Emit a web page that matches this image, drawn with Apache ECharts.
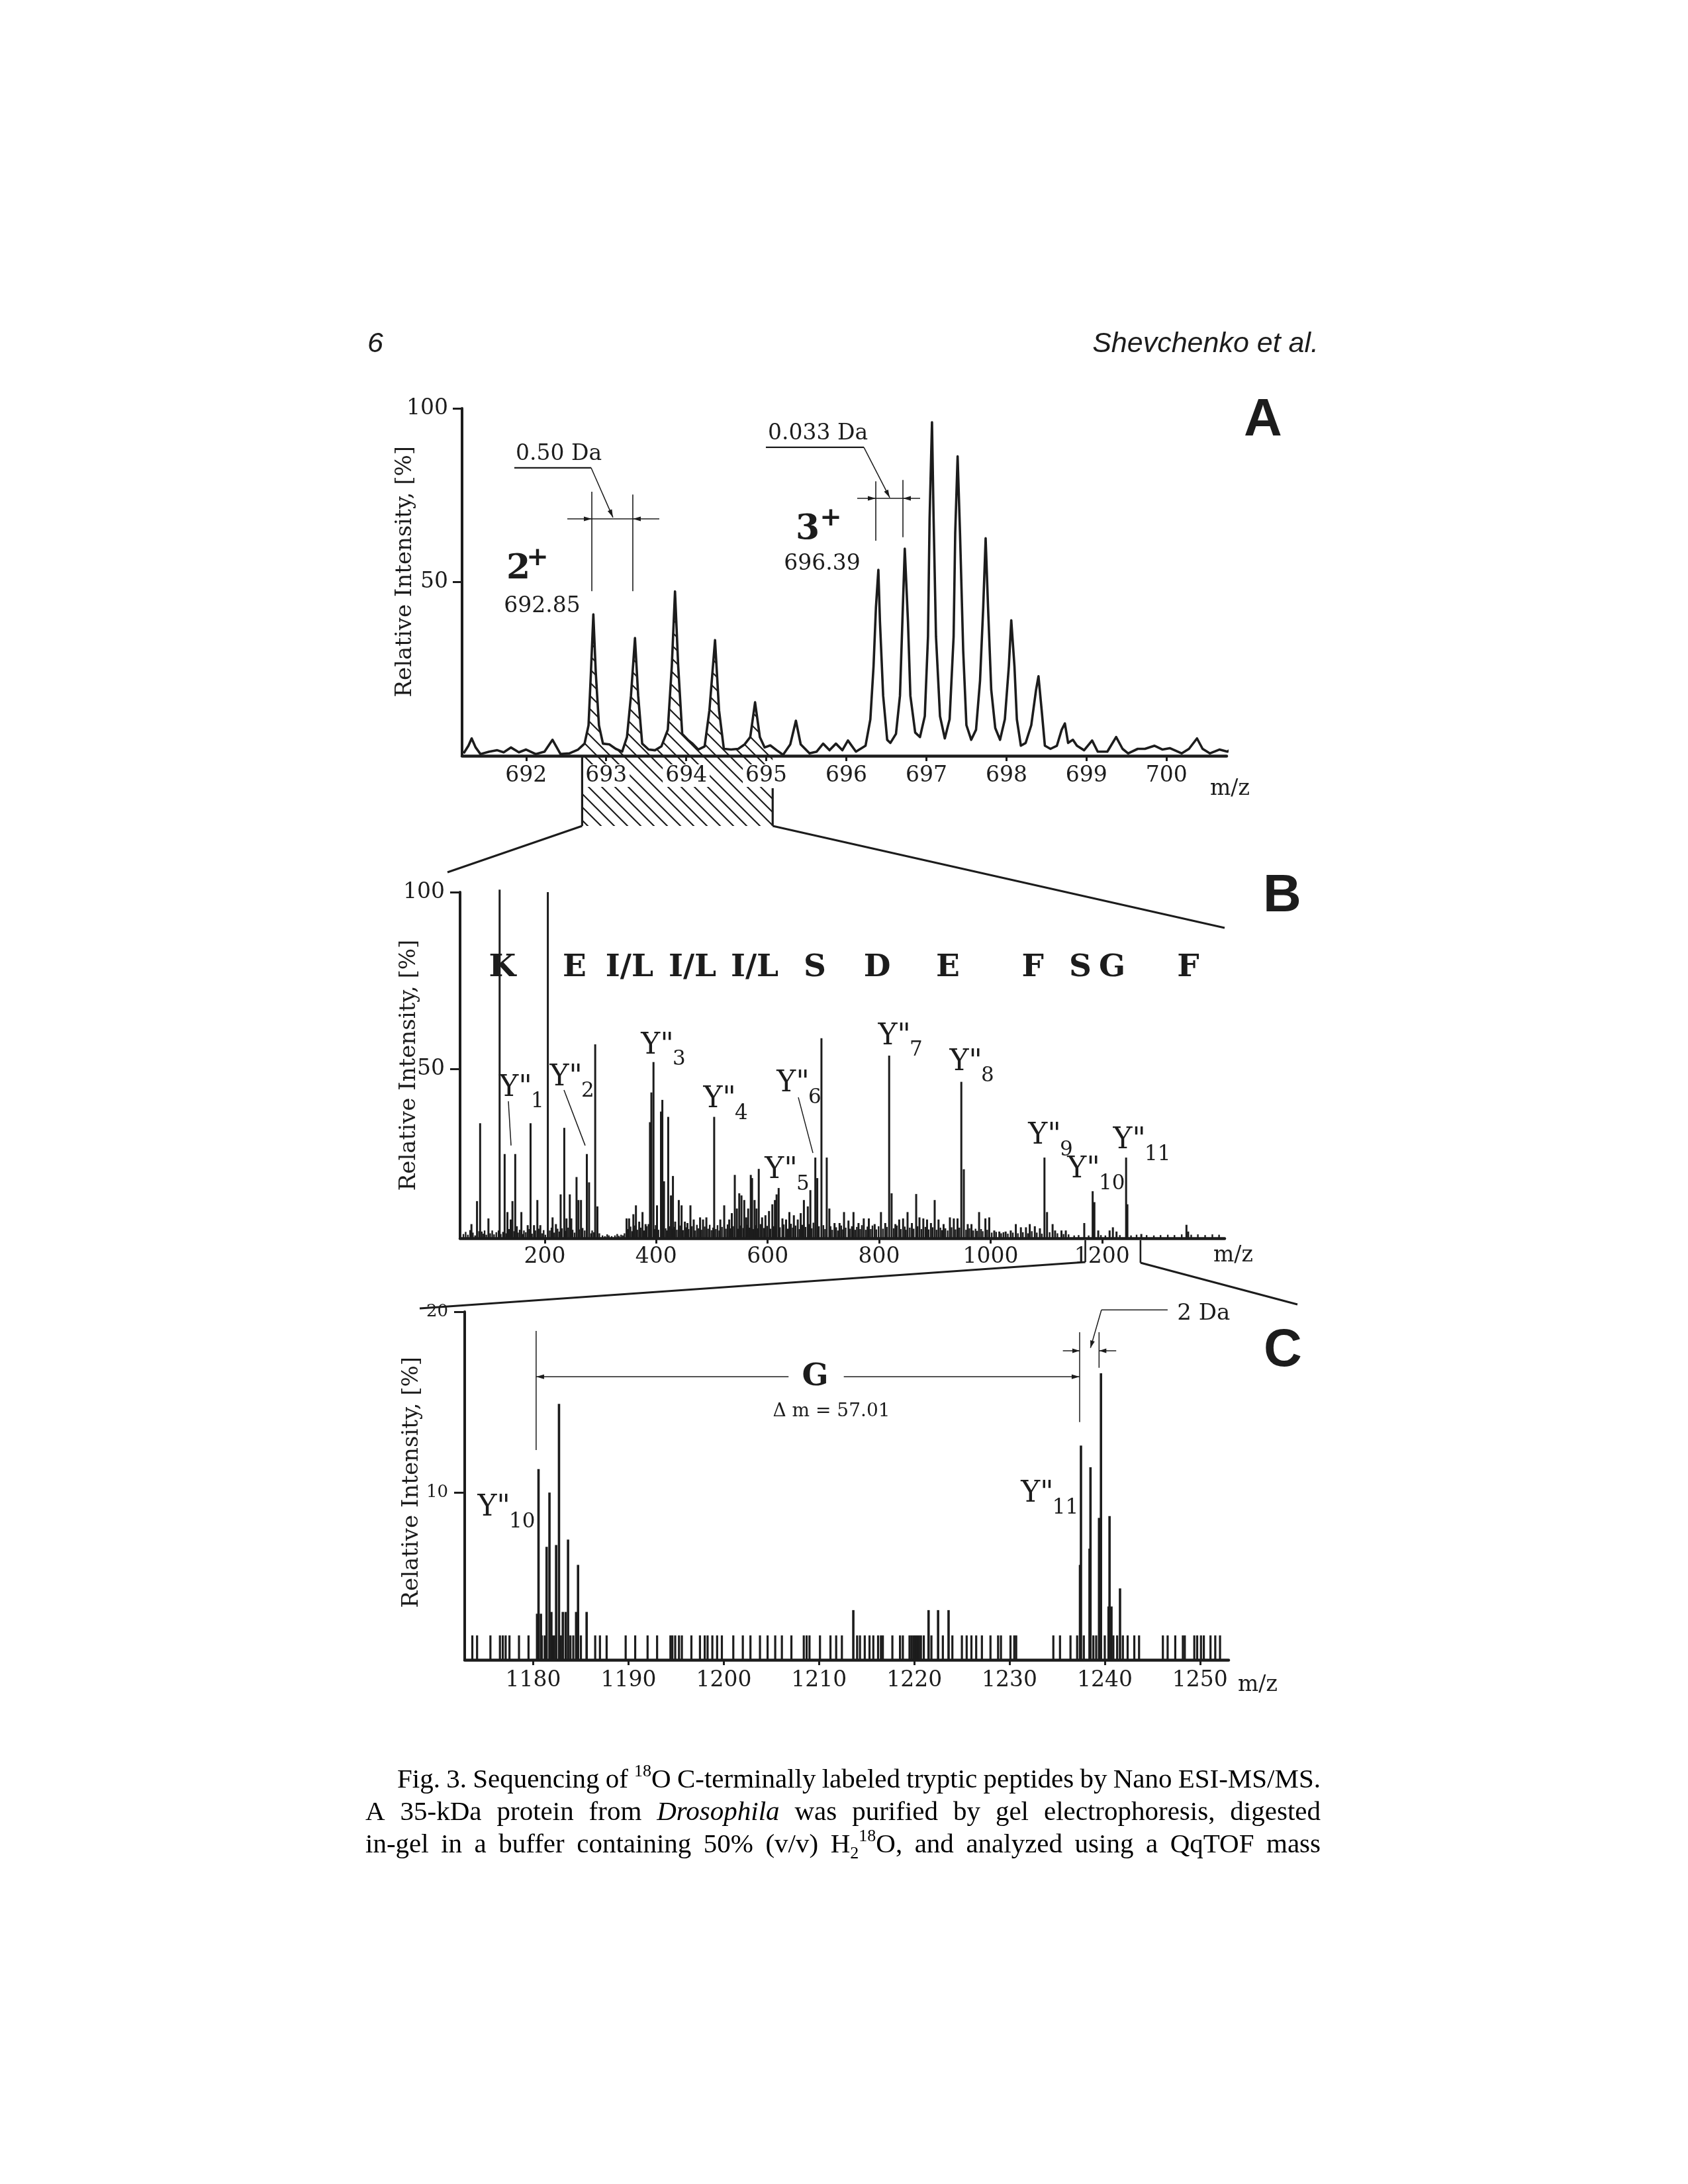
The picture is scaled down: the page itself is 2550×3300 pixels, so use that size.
<!DOCTYPE html>
<html><head><meta charset="utf-8">
<script src="https://cdn.jsdelivr.net/npm/echarts@6/dist/echarts.min.js"></script>
<style>html,body{margin:0;padding:0;background:#fff}#c{width:2550px;height:3300px}</style>
</head><body><div id="c"></div>
<script>
// ---------------- DATA ----------------
// Panel A: profile spectrum [m/z, relative intensity %]
const profileA = [
[691.22,0.7],[691.28,2.9],[691.32,5.0],[691.37,2.4],[691.43,0.5],[691.54,1.2],[691.64,1.6],[691.72,1.0],[691.81,2.4],[691.91,1.0],[692.00,1.8],[692.12,0.5],[692.23,1.2],[692.33,4.6],[692.43,0.5],[692.54,0.7],[692.65,1.8],[692.73,3.5],[692.78,8.8],[692.81,24.1],[692.84,40.7],[692.87,24.1],[692.91,8.8],[692.96,3.5],[693.04,3.3],[693.12,2.0],[693.20,1.2],[693.26,5.4],[693.31,17.3],[693.36,33.9],[693.40,17.3],[693.45,3.5],[693.53,1.8],[693.61,1.6],[693.69,2.7],[693.77,7.5],[693.82,25.8],[693.86,47.3],[693.90,25.8],[693.95,6.3],[694.02,4.6],[694.08,3.5],[694.15,1.8],[694.23,2.7],[694.29,13.1],[694.36,33.3],[694.41,13.1],[694.47,2.0],[694.56,1.8],[694.65,2.0],[694.73,3.3],[694.80,5.4],[694.86,15.4],[694.92,5.4],[694.98,2.4],[695.05,3.0],[695.13,1.6],[695.21,0.3],[695.30,3.3],[695.37,10.1],[695.43,3.3],[695.54,0.7],[695.63,1.2],[695.71,3.5],[695.79,1.6],[695.87,3.5],[695.95,1.6],[696.02,4.4],[696.12,1.2],
[696.24,2.9],[696.30,10.5],[696.34,25.8],[696.37,42.8],[696.40,53.5],[696.42,38.6],[696.46,17.3],[696.51,4.6],[696.55,3.7],[696.62,6.3],[696.67,17.3],[696.70,38.6],[696.73,59.6],[696.77,38.6],[696.80,17.3],[696.86,6.7],[696.92,5.4],[696.98,11.4],[697.02,34.3],[697.04,68.3],[697.07,96.0],[697.09,68.3],[697.12,34.3],[697.17,11.4],[697.23,5.0],[697.29,10.5],[697.34,34.3],[697.36,64.1],[697.39,86.2],[697.42,64.1],[697.46,30.1],[697.50,8.8],[697.56,4.6],[697.62,7.5],[697.67,21.6],[697.71,42.8],[697.74,62.6],[697.77,42.8],[697.81,19.0],[697.86,8.0],[697.92,4.6],[697.98,10.5],[698.03,25.8],[698.06,39.0],[698.10,25.8],[698.13,10.5],[698.18,2.9],[698.24,3.7],[698.31,8.8],[698.37,19.0],[698.40,22.9],[698.44,13.1],[698.48,2.9],[698.55,2.0],[698.63,2.9],[698.69,7.5],[698.73,9.3],[698.77,3.7],[698.83,4.6],[698.88,2.9],[698.97,1.6],[699.07,4.4],[699.14,1.2],[699.26,1.2],[699.37,5.4],[699.45,2.0],[699.52,0.7],[699.64,2.0],[699.73,2.0],[699.85,2.9],[699.95,1.8],[700.04,2.2],[700.19,0.7],[700.28,2.0],[700.38,5.0],[700.45,2.0],[700.54,0.7],[700.66,1.8],[700.76,1.2],[700.87,2.9]
];
const zoomRangeA = [692.70, 695.08];      // hatched region selected for MS/MS
const ticksA = [692,693,694,695,696,697,698,699,700];

// Panel B: MS/MS stick spectrum, main fragment peaks [m/z, %]
const peaksB = [
[68.4,6.2],[78.4,12.7],[84,34.7],[98.9,7.8],[119,100.7],[128,26],[133,9.6],[138.9,7.5],[142,12.7],[147,26],[149.8,5.6],[158,9.6],[169.4,5.9],[174.5,34.7],[180.7,5.9],[186.7,13],[192,5.9],[205.5,100],[214,8.1],[220,6.2],[228.5,14.6],[235,33.4],[239,7.8],[244.9,14.6],[247.6,7.8],[257,19.5],[260.4,13],[265,13],[275.5,26],[279.5,18],[290.5,57],[294.5,11.2],
[346.8,7.8],[351.3,7.8],[359,9],[363.6,11.5],[369.5,6.9],[375.4,9.6],[380.9,6.2],[386.4,6.2],[388.8,35],[391.3,43.4],[395.1,52],[401.4,11.5],[408.5,38],[411,41.3],[414,18.3],[421.5,36.5],[426.4,14.3],[430,19.8],[434,6.9],[440.5,13],[445.5,11.5],[451.4,6.9],[456,6.5],[461.4,11.5],[467.3,7.5],[478.7,8.1],[484,7.5],[490,8.1],[504,36.5],[515,7.5],[522,11.5],[531,7.5],[535.6,9.3],[541,20.1],[544.7,10.6],[549,14.9],[553,14.3],[558,13],[561.5,8.1],[565,10.6],[569.7,20.1],[572,19.2],[576.5,13],[580,10.6],[584,21.8],[590,8.1],[596,8.7],[602.4,9.9],[608.4,11.8],[613,13],[616,14.6],[619.7,16.4],[626.5,7.8],[633,7.5],[639,9.6],[647,8.7],[654,7.5],[659.3,9.3],[665,13],[672,11.2],[676.6,15.8],[685.5,25],[689,19.2],[696.5,58.7],[706,25],[710.7,10.6],[720,6.5],[729,6.5],[737,9.6],[745,7.2],
[754,9.6],[763,6.5],[772.4,7.8],[781.5,7.8],[792,6.2],[803.3,9.6],[811,6.5],[818,53.8],[822.4,14.9],[829.2,6.2],[836,7.5],[843,7.8],[851,9.6],[858.8,6.5],[866.5,14.7],[872.4,8.1],[879.3,7.8],[886,7.5],[893,6.5],[899.7,13],[906.6,7.5],[915.7,6.2],[927,8.1],[934,7.8],[940.7,7.8],[947.5,46.4],[952,21.7],[959,6.2],[965.7,6.2],[979.4,9.6],[990.7,7.8],[997.6,8.1],[1006.6,4.4],[1015.7,4.1],[1027,4.1],[1036.2,4.4],[1045.3,6.2],[1054.4,5.3],[1063.5,5.3],[1070.3,6.2],[1079.4,5.6],[1088.5,5],[1096.7,25],[1101.3,9.6],[1111.3,6.2],[1115.8,4.4],[1127.2,4.4],[1135,4.4],[1168.1,6.5],[1183.2,15.5],[1186.3,12.4],[1193.2,4.4],[1213.6,4.4],[1219.5,5.3],[1226,4.1],[1243.2,25],[1245.5,11.8],[1270.5,3.4],[1351.5,6],[1354.6,4.1]
];
// Panel B: low-level chemical noise sticks [m/z, %]
const noiseB = [
[54,3.4],[58,4.0],[62,3.2],[66,4.5],[71,3.8],[75,3.0],[82,4.2],[87,4.1],[90,3.5],[92,4.4],[95,3.2],[102,3.6],[105.7,4.4],[109,3.3],[113,3.9],[117,4.4],[121,3.4],[125,4.0],[131,3.6],[136,4.8],[140,3.5],[145,4.2],[152,3.8],[155,4.6],[161,3.4],[162.6,4.4],[166,3.9],[172,4.8],[177,3.5],[183,4.4],[189,4.9],[195,3.6],[198,4.5],[201,3.2],[209,4.4],[212,5.2],[217,3.8],[223,4.9],[226,4.1],[231,5.0],[237,4.3],[242,5.2],[250,4.6],[253.5,3.8],[262,4.7],[268,5.1],[271.7,4.4],[283,3.6],[285,4.4],[288,3.9],[298,3.6],
[303.6,3.0],[308,2.8],[312,3.3],[315,3.0],[320,2.8],[326,3.0],[330,3.4],[333,2.9],[337,3.2],[340,3.0],[343,3.6],
[349,4.8],[354,5.5],[357,4.2],[361,5.8],[366,4.6],[372,5.2],[378,4.4],[383,5.6],[397,4.8],[399,5.9],[404,4.6],[417,5.0],[419,4.4],[424,5.6],[428,4.9],[432,5.4],[437,4.6],[443,5.8],[448,4.5],[453,5.3],[458,4.8],[464,5.6],[470,4.4],[473,6.0],[476,5.0],[481,4.6],[487,5.5],[493,4.9],[496,6.0],[499,4.5],[502,5.2],[507,4.8],[510,5.9],[513,4.4],[518,5.4],[525,4.9],[528,6.1],[533,5.0],[538,5.6],[547,4.9],[551,5.8],[556,5.1],[563,6.0],[567,5.2],[574,4.8],[578,5.9],[582,5.0],[587,6.2],[593,5.1],[599,5.7],[605,4.9],[611,5.6],[622,5.3],[629,6.1],[636,4.9],[642,6.3],[645,5.2],[650,5.8],[657,4.8],[662,6.0],[668,5.4],[674,6.2],[679,5.0],[682,6.6],[692,5.6],[700,5.9],[703,4.8],[713,5.6],[716,4.6],[723,5.3],[726,4.4],[732,5.8],[735,4.7],[740,5.2],[748,4.9],[751,5.6],[757,4.6],[760,5.4],[766,4.8],[769,5.9],[776,4.6],[779,5.5],[785,4.8],[788,5.8],[795,4.7],[799,5.6],[807,4.9],[814,5.4],[826,5.0],[832,5.8],[839,4.8],[846,5.5],[848,4.6],[855,5.2],[862,4.9],[869,5.6],[876,4.8],[883,5.4],[889,4.7],[896,5.3],[903,4.6],[910,5.2],[913,4.5],[919,5.0],[923,4.4],[930,5.3],[937,4.7],[944,5.2],[956,4.6],[962,5.0],[969,4.4],[973,4.9],[976,4.3],[983,4.8],[986,4.2],[994,4.6],
[1002,3.8],[1010,4.0],[1019,3.6],[1023,3.9],[1031,3.5],[1040,3.8],[1049,3.6],[1058,3.9],[1067,3.6],[1074,4.2],[1083,3.8],[1092,3.5],[1106,3.9],[1120,3.6],[1131,3.4],[1140,3.3],
[1150,3.0],[1158,3.1],[1176,3.0],[1198,3.1],[1206,3.0],[1232,3.1],[1252,3.0],[1262,3.2],[1280,3.1],[1293,3.0],[1305,3.1],[1318,3.2],[1330,3.1],[1343,3.3],[1360,3.2],[1372,3.3],[1385,3.1],[1398,3.3],[1410,3.2]
];
const ticksB = [200,400,600,800,1000,1200];
const zoomRangeB = [1170, 1269];
const sequenceB = ['K','E','I/L','I/L','I/L','S','D','E','F','S','G','F'];
const sequenceMz = [124,253.5,352,465,576.6,684.7,796.4,923.5,1075.6,1161,1218,1354.7];
const ionIndexB = [1,2,3,4,5,6,7,8,9,10,11];

// Panel C: zoom on Y''10 / Y''11 isotope clusters [m/z, %]
const peaksC = [
[1180.4,3.3],[1180.55,11.3],[1180.8,3.3],[1181.4,7.0],[1181.7,10.0],[1181.9,3.4],[1182.4,7.1],[1182.7,14.9],[1183.1,3.4],[1183.4,3.4],[1183.65,7.4],[1184.5,3.4],[1184.7,6.0],[1185.6,3.4],
[1213.6,3.5],[1221.5,3.5],[1222.5,3.5],[1223.6,3.5],
[1237.4,6.0],[1237.5,12.6],[1238.4,6.9],[1238.5,11.4],[1239.4,8.6],[1239.6,16.6],[1240.4,3.7],[1240.5,8.7],[1240.7,3.7],[1241.6,4.7]
];
const noiseC = [
[1173.6,2.1],[1174.1,2.1],[1175.5,2.1],[1176.5,2.1],[1176.8,2.1],[1177.1,2.1],[1177.5,2.1],[1178.5,2.1],[1179.5,2.1],[1180.9,2.1],[1181.2,2.1],[1182.0,2.1],[1182.2,2.1],[1182.9,2.1],[1183.9,2.1],[1184.2,2.1],[1185.0,2.1],[1186.5,2.1],[1187.0,2.1],[1187.7,2.1],[1189.7,2.1],[1190.7,2.1],[1192.0,2.1],[1193.0,2.1],[1194.4,2.1],[1194.6,2.1],[1194.9,2.1],[1195.3,2.1],[1195.6,2.1],[1196.6,2.1],[1197.5,2.1],[1198.0,2.1],[1198.3,2.1],[1198.8,2.1],[1199.3,2.1],[1199.8,2.1],[1201.0,2.1],[1202.0,2.1],[1202.8,2.1],[1203.8,2.1],[1204.6,2.1],[1205.4,2.1],[1206.1,2.1],[1207.1,2.1],[1208.4,2.1],[1208.7,2.1],[1209.0,2.1],[1210.1,2.1],[1211.2,2.1],[1211.8,2.1],[1212.4,2.1],[1214.0,2.1],[1214.3,2.1],[1214.8,2.1],[1215.3,2.1],[1215.7,2.1],[1216.2,2.1],[1216.5,2.1],[1216.7,2.1],[1217.7,2.1],[1218.5,2.1],[1218.8,2.1],[1219.5,2.1],[1219.7,2.1],[1219.9,2.1],[1220.1,2.1],[1220.3,2.1],[1220.5,2.1],[1220.7,2.1],[1221.0,2.1],[1221.8,2.1],[1223.0,2.1],[1224.0,2.1],[1225.0,2.1],[1225.5,2.1],[1226.0,2.1],[1226.5,2.1],[1227.1,2.1],[1228.0,2.1],[1228.8,2.1],[1229.1,2.1],[1230.1,2.1],[1230.5,2.1],[1230.7,2.1],[1234.6,2.1],[1235.3,2.1],[1236.4,2.1],[1237.1,2.1],[1237.8,2.1],[1238.8,2.1],[1239.1,2.1],[1240.0,2.1],[1240.9,2.1],[1241.3,2.1],[1241.9,2.1],[1242.4,2.1],[1243.1,2.1],[1243.6,2.1],[1246.1,2.1],[1246.6,2.1],[1247.4,2.1],[1248.2,2.1],[1248.4,2.1],[1249.4,2.1],[1249.7,2.1],[1250.1,2.1],[1250.4,2.1],[1251.1,2.1],[1251.6,2.1],[1252.1,2.1]
];
const ticksC = [1180,1190,1200,1210,1220,1230,1240,1250];

const captionLines = [
  'Fig. 3. Sequencing of ^{18}O C-terminally labeled tryptic peptides by Nano ESI-MS/MS.',
  'A 35-kDa protein from *Drosophila* was purified by gel electrophoresis, digested',
  'in-gel in a buffer containing 50% (v/v) H_{2}^{18}O, and analyzed using a QqTOF mass'
];

// ---------------- CHART ----------------
const INK = '#1c1c1c';
const SERIF = 'DejaVu Serif';
const SANS = 'Liberation Sans';
const chart = echarts.init(document.getElementById('c'), null, {width: 2550, height: 3300});

// hatch pattern
const pat = document.createElement('canvas');
pat.width = 20; pat.height = 20;
(function(){ const c = pat.getContext('2d'); c.strokeStyle = INK; c.lineWidth = 2.2;
  c.beginPath(); c.moveTo(-4,-4); c.lineTo(24,24); c.moveTo(-4,16); c.lineTo(4,24); c.moveTo(16,-4); c.lineTo(24,4); c.stroke(); })();
const hatch = {image: pat, repeat: 'repeat'};

const grids = [
  {left: 698, top: 617, width: 1155, height: 525},
  {left: 695, top: 1348, width: 1155, height: 523},
  {left: 702, top: 1982, width: 1154, height: 526}
];
const ranges = [
  {x: [691.2, 700.75], y: [0, 100]},
  {x: [48, 1420], y: [2.2, 100]},
  {x: [1172.8, 1253], y: [0.75, 20]}
];
const plain = v => String(v);
function xAx(g, ticks, margin, extra) {
  return Object.assign({type: 'value', gridIndex: g, min: ranges[g].x[0], max: ranges[g].x[1], z: 10,
    axisLine: {onZero: false, lineStyle: {color: INK, width: 4.5}},
    axisTick: {show: true, customValues: ticks, length: 8, lineStyle: {color: INK, width: 3}},
    axisLabel: Object.assign({customValues: ticks, formatter: plain, margin: margin, fontFamily: SERIF, fontSize: 33, lineHeight: 34, color: INK}, extra || {}),
    splitLine: {show: false}});
}
function yAx(g, ticks, margin, fs, tl) {
  return {type: 'value', gridIndex: g, min: ranges[g].y[0], max: ranges[g].y[1], z: 10,
    axisLine: {onZero: false, lineStyle: {color: INK, width: 4}},
    axisTick: {show: true, customValues: ticks, length: tl, lineStyle: {color: INK, width: 3}},
    axisLabel: {customValues: ticks, formatter: plain, margin: margin, fontFamily: SERIF, fontSize: fs, color: INK},
    splitLine: {show: false}};
}
function sticks(g, data, w) {
  const ymin = ranges[g].y[0];
  return {type: 'custom', xAxisIndex: g, yAxisIndex: g, data: data, silent: true, clip: false, z: 4,
    renderItem: function (p, api) {
      const a = api.coord([api.value(0), api.value(1)]);
      const b = api.coord([api.value(0), ymin]);
      return {type: 'line', shape: {x1: a[0], y1: a[1], x2: b[0], y2: b[1]}, style: {stroke: INK, lineWidth: w}};
    }};
}
const hatchData = profileA.filter(d => d[0] >= zoomRangeA[0] && d[0] <= zoomRangeA[1]);

chart.setOption({
  animation: false,
  backgroundColor: '#fff',
  grid: grids,
  xAxis: [xAx(0, ticksA, 13, {backgroundColor: '#fff', padding: [0, 4]}), xAx(1, ticksB, 11), xAx(2, ticksC, 14)],
  yAxis: [yAx(0, [50, 100], 21, 33, 14), yAx(1, [50, 100], 23, 33, 15), yAx(2, [10, 20], 25, 26, 16)],
  series: [
    {type: 'line', xAxisIndex: 0, yAxisIndex: 0, data: hatchData, symbol: 'none', silent: true, z: 1,
      lineStyle: {width: 0}, areaStyle: {color: hatch, opacity: 1, origin: 'start'}},
    {type: 'line', xAxisIndex: 0, yAxisIndex: 0, data: profileA, symbol: 'none', silent: true, clip: false, z: 3,
      lineStyle: {color: INK, width: 3.6, join: 'round'}},
    sticks(1, noiseB, 2.4),
    sticks(1, peaksB, 3),
    sticks(2, noiseC, 3.2),
    sticks(2, peaksC, 3.6)
  ]
});

// ---------------- ANNOTATIONS ----------------
const P = (g, m, v) => chart.convertToPixel({gridIndex: g}, [m, v]);
const els = [];
function seg(a, b, w, z) { els.push({type: 'line', z: z || 20, silent: true, shape: {x1: a[0], y1: a[1], x2: b[0], y2: b[1]}, style: {stroke: INK, lineWidth: w || 2}}); }
function arrow(tip, from, len, half) {
  len = len || 13; half = half || 4.5;
  const dx = tip[0] - from[0], dy = tip[1] - from[1], L = Math.hypot(dx, dy), ux = dx / L, uy = dy / L;
  const bx = tip[0] - ux * len, by = tip[1] - uy * len;
  els.push({type: 'polygon', z: 20, silent: true, shape: {points: [tip, [bx - uy * half, by + ux * half], [bx + uy * half, by - ux * half]]}, style: {fill: INK}});
}
function txt(p, s, o) {
  o = o || {};
  els.push({type: 'text', z: 21, silent: true, x: p[0], y: p[1], rotation: o.rot || 0,
    style: {text: s, fontFamily: o.family || SERIF, fontSize: o.size || 32, fontWeight: o.weight || 'normal',
      fontStyle: o.style || 'normal', fill: INK, align: o.align || 'center', verticalAlign: o.va || 'middle'}});
}
const off = (p, dx, dy) => [p[0] + dx, p[1] + dy];

// Header
txt([555, 520], '6', {family: SANS, style: 'italic', size: 43, align: 'left'});
txt([1992, 520], 'Shevchenko et al.', {family: SANS, style: 'italic', size: 43, align: 'right'});

// Panel letters
txt([1908, 636], 'A', {family: SANS, weight: 'bold', size: 80});
txt([1937, 1355], 'B', {family: SANS, weight: 'bold', size: 80});
txt([1938, 2042], 'C', {family: SANS, weight: 'bold', size: 80});

// Y axis titles
const yTitle = 'Relative Intensity, [%]';
[[0, -86, 0.47], [1, -77, 0.5], [2, -80, 0.49]].forEach(function (t) {
  const g = grids[t[0]];
  txt([g.left + t[1], g.top + g.height * t[2]], yTitle, {rot: Math.PI / 2, size: 34});
});
// m/z labels
(function(){
  const a = P(0, ranges[0].x[1], 0), b = P(1, ranges[1].x[1], ranges[1].y[0]), c = P(2, ranges[2].x[1], ranges[2].y[0]);
  txt(off(a, -25, 50), 'm/z', {align: 'left', size: 33});
  txt(off(b, -17, 26), 'm/z', {align: 'left', size: 33});
  txt(off(c, 14, 38), 'm/z', {align: 'left', size: 33});
})();

// ---- Panel A annotations
txt(P(0, 691.87, 86.7), '0.50 Da', {align: 'left', size: 33});
seg(P(0, 691.853, 82.9), P(0, 692.812, 82.9), 2.2);
seg(P(0, 692.812, 82.9), P(0, 693.085, 68.6), 1.5);
arrow(P(0, 693.085, 68.6), P(0, 692.812, 82.9), 12, 3.5);
seg(P(0, 692.821, 76.0), P(0, 692.821, 47.4), 1.6);
seg(P(0, 693.333, 75.2), P(0, 693.333, 47.4), 1.6);
seg(P(0, 692.515, 68.2), P(0, 693.664, 68.2), 1.6);
arrow(P(0, 692.821, 68.2), P(0, 692.5, 68.2), 12, 3.5);
arrow(P(0, 693.333, 68.2), P(0, 693.7, 68.2), 12, 3.5);
txt(P(0, 691.903, 53.7), '2', {weight: 'bold', size: 52});
txt(P(0, 692.143, 56.8), '+', {weight: 'bold', size: 40});
txt(P(0, 692.2, 42.9), '692.85', {size: 33});

txt(P(0, 695.02, 92.6), '0.033 Da', {align: 'left', size: 33});
seg(P(0, 694.995, 88.8), P(0, 696.219, 88.8), 2.2);
seg(P(0, 696.219, 88.8), P(0, 696.542, 74.3), 1.5);
arrow(P(0, 696.542, 74.3), P(0, 696.219, 88.8), 12, 3.5);
seg(P(0, 696.368, 79.0), P(0, 696.368, 61.9), 1.6);
seg(P(0, 696.707, 79.4), P(0, 696.707, 62.9), 1.6);
seg(P(0, 696.136, 74.1), P(0, 696.922, 74.1), 1.6);
arrow(P(0, 696.368, 74.1), P(0, 696.1, 74.1), 12, 3.5);
arrow(P(0, 696.707, 74.1), P(0, 697.0, 74.1), 12, 3.5);
txt(P(0, 695.516, 65.1), '3', {weight: 'bold', size: 52});
txt(P(0, 695.806, 68.2), '+', {weight: 'bold', size: 40});
txt(P(0, 695.698, 55.2), '696.39', {size: 33});

// hatched selection box below axis A and connectors to B
(function(){
  const l = P(0, zoomRangeA[0], 0), r = P(0, zoomRangeA[1], 0);
  const h = 106;
  els.push({type: 'rect', z: 1, silent: true, shape: {x: l[0], y: l[1], width: r[0] - l[0], height: h}, style: {fill: hatch}});
  seg(l, off(l, 0, h), 3.2);
  seg(off(r, 0, 49), off(r, 0, h), 3.2);
  const gb = grids[1];
  seg(off(l, 0, h), [gb.left - 19, gb.top - 30], 3.2);
  seg(off(r, 0, h), P(1, ranges[1].x[1], 89.9), 3.2);
})();

// ---- Panel B annotations
sequenceB.forEach(function (s, i) { txt(P(1, sequenceMz[i], 78.5), s, {weight: 'bold', size: 47}); });
const ionAnchorB = [[147.8,44.6],[238.1,47.6],[402,56.6],[513.7,41.3],[624.1,21.3],[645.5,45.8],[827.3,59.2],[955.6,51.9],[1096.9,31.0],[1167,21.5],[1249,29.7]];
function ionLabel(p, n) {
  txt(p, 'Y"', {size: 44});
  txt(off(p, 23, 21), String(n), {size: 31, align: 'left'});
}
ionIndexB.forEach(function (n, i) { ionLabel(P(1, ionAnchorB[i][0], ionAnchorB[i][1]), n); });
seg(P(1, 134.7, 40.9), P(1, 139.5, 28.4), 1.5);
seg(P(1, 234.5, 44.1), P(1, 272.5, 28.4), 1.5);
seg(P(1, 655, 42.0), P(1, 681.2, 26.3), 1.5);

// bracket on B axis and connectors to C
(function(){
  const a = P(1, zoomRangeB[0], ranges[1].y[0]), b = P(1, zoomRangeB[1], ranges[1].y[0]);
  seg(off(a, 0, 3), off(a, 0, 36), 2.6);
  seg(off(b, 0, 3), off(b, 0, 37), 2.6);
  const gc = grids[2];
  seg(off(a, 0, 36), [gc.left - 68, gc.top - 5], 3.2);
  seg(off(b, 0, 37), [gc.left + gc.width + 104, gc.top - 11], 3.2);
})();

// ---- Panel C annotations
ionLabel(P(2, 1175.86, 9.13), 10);
ionLabel(P(2, 1232.9, 9.9), 11);
seg(P(2, 1180.3, 18.94), P(2, 1180.3, 12.35), 1.5);
seg(P(2, 1180.3, 16.4), P(2, 1206.8, 16.4), 1.5);
arrow(P(2, 1180.3, 16.4), P(2, 1182, 16.4), 12, 3.5);
txt(P(2, 1209.6, 16.4), 'G', {weight: 'bold', size: 47});
seg(P(2, 1212.6, 16.4), P(2, 1237.36, 16.4), 1.5);
arrow(P(2, 1237.36, 16.4), P(2, 1235, 16.4), 12, 3.5);
txt(P(2, 1211.3, 14.5), 'Δ m = 57.01', {size: 28});
seg(P(2, 1237.36, 18.87), P(2, 1237.36, 13.9), 1.5);
seg(P(2, 1239.4, 18.87), P(2, 1239.4, 16.9), 1.5);
seg(P(2, 1235.6, 17.84), P(2, 1237.36, 17.84), 1.5);
arrow(P(2, 1237.36, 17.84), P(2, 1235.6, 17.84), 11, 3.5);
seg(P(2, 1241.2, 17.84), P(2, 1239.4, 17.84), 1.5);
arrow(P(2, 1239.4, 17.84), P(2, 1241.2, 17.84), 11, 3.5);
seg(P(2, 1238.5, 18.0), P(2, 1239.65, 20.1), 1.5);
arrow(P(2, 1238.5, 18.0), P(2, 1239.65, 20.1), 11, 3.5);
seg(P(2, 1239.65, 20.1), P(2, 1246.6, 20.1), 1.5);
txt(P(2, 1247.6, 19.9), '2 Da', {align: 'left', size: 34});

// ---- Caption (justified)
(function(){
  const FAM = 'Liberation Serif';
  const rich = {
    n: {fontFamily: FAM, fontSize: 41, lineHeight: 52, verticalAlign: 'middle', color: INK},
    i: {fontFamily: FAM, fontSize: 41, fontStyle: 'italic', lineHeight: 52, verticalAlign: 'middle', color: INK},
    sup: {fontFamily: FAM, fontSize: 26, lineHeight: 28, verticalAlign: 'top', color: INK},
    sub: {fontFamily: FAM, fontSize: 26, lineHeight: 20, verticalAlign: 'bottom', color: INK}
  };
  const mc = document.createElement('canvas').getContext('2d');
  function w(seg) { const st = rich[seg[1]]; mc.font = (st.fontStyle || 'normal') + ' normal ' + st.fontSize + 'px "' + st.fontFamily + '"'; return mc.measureText(seg[0]).width; }
  function parse(word) {
    const out = []; const re = /\^\{([^}]*)\}|_\{([^}]*)\}|\*([^*]*)\*|([^\^_*]+)/g; let m;
    while ((m = re.exec(word))) {
      if (m[1] !== undefined) out.push([m[1], 'sup']);
      else if (m[2] !== undefined) out.push([m[2], 'sub']);
      else if (m[3] !== undefined) out.push([m[3], 'i']);
      else out.push([m[4], 'n']);
    }
    return out;
  }
  const lefts = [600, 552, 552], right = 1995, ys = [2690, 2739, 2788];
  captionLines.forEach(function (line, li) {
    const words = line.split(' ').map(parse);
    const widths = words.map(ws => ws.reduce((s, sg) => s + w(sg), 0));
    const total = widths.reduce((a, b) => a + b, 0);
    const gap = (right - lefts[li] - total) / (words.length - 1);
    let x = lefts[li];
    words.forEach(function (ws, k) {
      els.push({type: 'text', z: 21, silent: true, x: x, y: ys[li],
        style: {text: ws.map(sg => '{' + sg[1] + '|' + sg[0] + '}').join(''), rich: rich, align: 'left', verticalAlign: 'middle'}});
      x += widths[k] + gap;
    });
  });
})();

chart.setOption({graphic: {elements: els}});
</script>
</body></html>
